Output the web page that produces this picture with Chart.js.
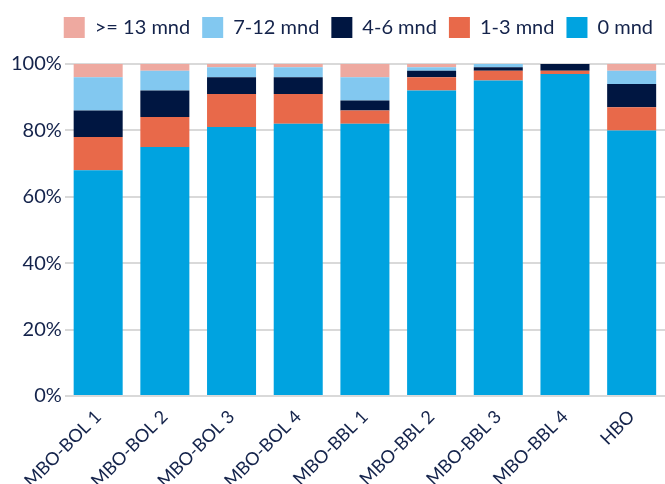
<!DOCTYPE html>
<html>
<head>
<meta charset="utf-8">
<script src="https://cdn.jsdelivr.net/npm/chart.js@4/dist/chart.umd.min.js"></script>
<style>
  html, body { margin: 0; padding: 0; background: #fff; }
  #wrap { width: 665px; height: 484px; }
</style>
</head>
<body>
<div id="wrap"><canvas id="c" width="665" height="484"></canvas></div>
<script>
const categories = ["MBO-BOL 1", "MBO-BOL 2", "MBO-BOL 3", "MBO-BOL 4", "MBO-BBL 1", "MBO-BBL 2", "MBO-BBL 3", "MBO-BBL 4", "HBO"];
const seriesNames = ["0 mnd", "1-3 mnd", "4-6 mnd", "7-12 mnd", ">= 13 mnd"];
const mnd0    = [68, 75, 81, 82, 82, 92, 95, 97, 80];
const mnd1_3  = [10, 9, 10, 9, 4, 4, 3, 1, 7];
const mnd4_6  = [8, 8, 5, 5, 3, 2, 1, 2, 7];
const mnd7_12 = [10, 6, 3, 3, 7, 1, 1, 0, 4];
const mnd13   = [4, 2, 1, 1, 4, 1, 0, 0, 2];
const yTicks = [0, 20, 40, 60, 80, 100];

const colors = ["#00A3E0", "#E8694A", "#001641", "#82C8F0", "#EEA9A0"];
const values = [mnd0, mnd1_3, mnd4_6, mnd7_12, mnd13];
const textColor = "#14234B";
const fontFamily = "Lato";

const legendSpacing = {
  id: "legendSpacing",
  beforeInit(chart) {
    const origFit = chart.legend.fit;
    chart.legend.fit = function () {
      origFit.call(this);
      this.height += 16;
    };
  }
};

new Chart(document.getElementById("c"), {
  type: "bar",
  data: {
    labels: categories,
    datasets: seriesNames.map((n, i) => ({
      label: n,
      data: values[i],
      backgroundColor: colors[i],
      borderWidth: 0,
      categoryPercentage: 0.735,
      barPercentage: 1.0
    }))
  },
  plugins: [legendSpacing],
  options: {
    responsive: false,
    animation: false,
    devicePixelRatio: 1,
    layout: { padding: { left: 8, right: 0, top: 5, bottom: 0 } },
    plugins: {
      legend: {
        position: "top",
        align: "end",
        reverse: true,
        labels: {
          boxWidth: 21,
          boxHeight: 21,
          padding: 12,
          color: textColor,
          font: { family: fontFamily, size: 20 }
        }
      },
      tooltip: { enabled: false }
    },
    scales: {
      x: {
        stacked: true,
        grid: { display: false },
        border: { display: false },
        afterFit: (axis) => { axis.height = 88; },
        ticks: {
          color: textColor,
          font: { family: fontFamily, size: 18 },
          minRotation: 45,
          maxRotation: 45,
          padding: 2
        }
      },
      y: {
        stacked: true,
        min: 0,
        max: 100,
        afterBuildTicks: (axis) => { axis.ticks = yTicks.map(v => ({ value: v })); },
        grid: { color: "#D9D9D9", lineWidth: 2, drawTicks: false },
        border: { display: false },
        ticks: {
          color: textColor,
          font: { family: fontFamily, size: 20 },
          padding: 3,
          callback: (v) => v + "%"
        }
      }
    }
  }
});
</script>
</body>
</html>
